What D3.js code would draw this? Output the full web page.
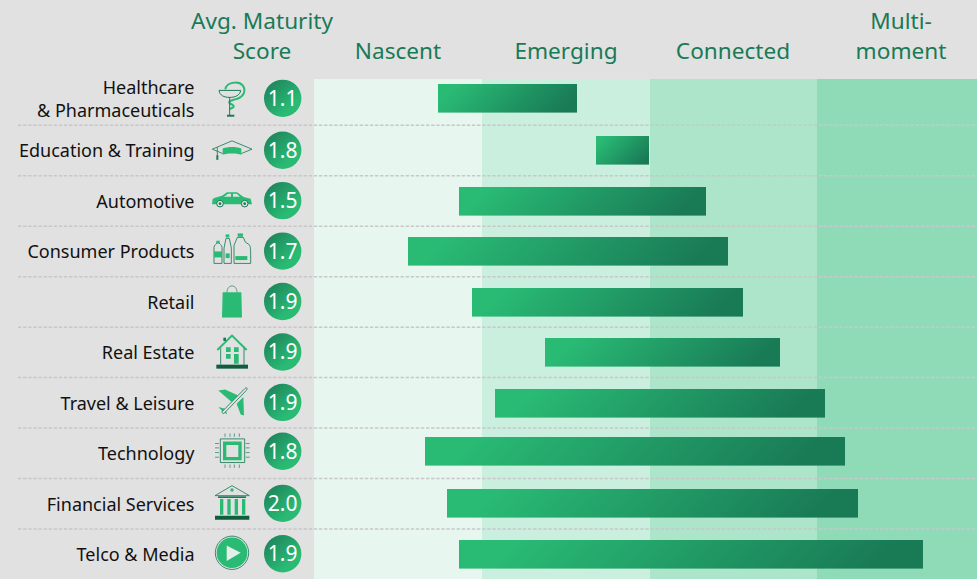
<!DOCTYPE html>
<html><head><meta charset="utf-8">
<script src="https://cdn.jsdelivr.net/npm/d3@7"></script>
<style>html,body{margin:0;padding:0;background:#e1e1e1;overflow:hidden}svg{display:block}text{font-family:"Noto Sans",sans-serif}</style>
</head><body><svg id="c" width="977" height="579"></svg>
<script>
const categories=["Healthcare\n& Pharmaceuticals","Education & Training","Automotive","Consumer Products","Retail","Real Estate","Travel & Leisure","Technology","Financial Services","Telco & Media"];
const scores=["1.1","1.8","1.5","1.7","1.9","1.9","1.9","1.8","2.0","1.9"];
const rangeStart=[0.74,1.68,0.865,0.56,0.94,1.375,1.08,0.66,0.79,0.865];
const rangeEnd=[1.57,1.995,2.335,2.47,2.56,2.78,3.045,3.165,3.24,3.63];
const stages=["Nascent","Emerging","Connected","Multi-\nmoment"];
const stageEdges=[0,1,2,3,3.952];
const stageFills=["#e7f6ef","#cbefde","#ace5ca","#8fdbb8"];
const scoreTitle="Avg. Maturity\nScore";

const G="#29ba74",D="#197a56",K="#0f5c3f",BG="#e1e1e1";
const svg=d3.select("#c");
const xRaw=d3.scaleLinear().domain([0,3.952]).range([314,977]);
const x=v=>Math.round(xRaw(v));
const y=d3.scaleBand().domain(categories).range([74.5,579]);
const mid=d=>y(d)+y.bandwidth()/2;
const cy=d=>mid(d)-(categories.indexOf(d)==0?1.4:categories.indexOf(d)==7?1.6:0);
const defs=svg.append("defs");
const cg=defs.append("linearGradient").attr("id","dot").attr("x1",.1).attr("y1",.1).attr("x2",.8).attr("y2",.85);
cg.append("stop").attr("offset",0).attr("stop-color","#1f845b");cg.append("stop").attr("offset",.85).attr("stop-color",G);

svg.append("rect").attr("width",977).attr("height",579).attr("fill",BG);
svg.selectAll(".band").data(stageFills).join("rect").attr("x",(d,i)=>x(stageEdges[i])).attr("y",79)
  .attr("width",(d,i)=>x(stageEdges[i+1])-x(stageEdges[i])).attr("height",500).attr("fill",d=>d);

svg.selectAll(".sep").data(categories.slice(1)).join("line")
  .attr("x1",18).attr("x2",977).attr("y1",d=>y(d)+.4).attr("y2",d=>y(d)+.4)
  .attr("stroke","#c8c8c8").attr("stroke-width",1.5).attr("stroke-dasharray","3.4 1.7");

function head(t,cx){t.split("\n").forEach((l,i,a)=>{svg.append("text").attr("x",cx).attr("y",a.length==2?29+i*30:59)
  .attr("text-anchor","middle").attr("font-size",22.6).attr("fill",D).text(l);});}
head(scoreTitle,262);
[398,566,733,901].forEach((cx,i)=>head(stages[i],cx));

const barTop=d=>Math.round(cy(d)-13.9);
const barH=28.6;
categories.forEach((d,i)=>{
  const x0=x(rangeStart[i]),x1=x(rangeEnd[i]),w=x1-x0,t=barTop(d),s=(w+barH)/2;
  const g=defs.append("linearGradient").attr("id","bar"+i).attr("gradientUnits","userSpaceOnUse")
    .attr("x1",x0).attr("y1",t).attr("x2",x0+s).attr("y2",t+s);
  g.append("stop").attr("offset",.12).attr("stop-color",G);g.append("stop").attr("offset",.9).attr("stop-color",D);
});
svg.selectAll(".bar").data(categories).join("rect").attr("x",(d,i)=>x(rangeStart[i])).attr("width",(d,i)=>x(rangeEnd[i])-x(rangeStart[i]))
  .attr("y",barTop).attr("height",barH).attr("fill",(d,i)=>`url(#bar${i})`);

categories.forEach(d=>{const ls=d.split("\n");ls.forEach((l,j)=>{svg.append("text").attr("x",194.5).attr("y",ls.length==2?cy(d)+7+(j==0?-11:11.5):mid(d)+7.3)
  .attr("text-anchor","end").attr("font-size",18).attr("fill","#111").text(l);});});

svg.selectAll(".dot").data(categories).join("circle").attr("cx",282.7).attr("cy",d=>cy(d)).attr("r",18.7).attr("fill","url(#dot)");
svg.selectAll(".score").data(categories).join("text").attr("x",282.7).attr("y",d=>cy(d)+7.5).attr("text-anchor","middle").attr("font-size",21).attr("fill","#fff").text((d,i)=>scores[i]);

function P(g,d,o){const p=g.append("path").attr("d",d);p.attr("fill",o.f||"none").attr("stroke",o.s||"none").attr("stroke-width",o.w||0);return p;}
const icons=[
g=>{P(g,"M-20,-28C-18,-48 18,-56 32,-40C44,-24 34,-6 16,0C0,4 -16,8 -5,15C8,20 10,26 -8,31",{s:G,w:6});
    P(g,"M-39,-25H26C24,-10 10,-4 -7,-4C-24,-4 -37,-10 -39,-25Z",{s:D,w:3});
    P(g,"M-7,-4V50",{s:D,w:3});P(g,"M-15,48H7V54H-15Z",{f:D});},
g=>{P(g,"M-59,0L0,-25L60,0L28,13M-28,13L-59,0",{s:D,w:2.5});
    P(g,"M-28,-2C-12,-8 12,-8 28,-2V17C12,12 -12,12 -28,17Z",{f:G});
    P(g,"M-44,-6V18",{s:D,w:2.5});P(g,"M-47,18H-41V32H-47Z",{f:D});},
g=>{P(g,"M-60,14L-58,-2C-50,-8 -36,-10 -30,-12L-15,-22H15L35,-8L56,-3L60,14Z",{f:G});
    P(g,"M-24,-9L-12,-18H-3V-9ZM3,-18H14L24,-9H3Z",{f:BG});
    [-36,38].forEach(c=>{g.append("circle").attr("cx",c).attr("cy",12).attr("r",10).attr("fill",BG).attr("stroke",D).attr("stroke-width",3);g.append("circle").attr("cx",c).attr("cy",12).attr("r",4).attr("fill",D);});},
g=>{P(g,"M-54,-8C-54,-16 -46,-16 -46,-22H-38C-38,-16 -30,-16 -30,-8V40H-54Z",{s:D,w:2.5});
    P(g,"M-54,4H-30V22H-54Z",{f:G});P(g,"M-47,-28H-37V-20H-47Z",{f:G});
    P(g,"M-24,-6L-18,-35H-8L-2,-6V40H-24Z",{s:D,w:2.5});P(g,"M-19,-47H-8V-38H-19Z",{f:G});P(g,"M-19,10H-7V24H-19Z",{f:G});
    P(g,"M6,-14L16,-38H34L40,-24L52,-16C56,-10 56,-2 56,40H6Z",{s:D,w:2.5});P(g,"M17,-50H33V-40H17Z",{f:G});P(g,"M10,18H46V30H10Z",{f:G});},
g=>{P(g,"M-15,-25C-15,-50 15,-50 15,-25",{s:D,w:2});P(g,"M-28,-25H28L30,51H-30Z",{f:G});},
g=>{P(g,"M-44,-3L0,-46L44,-3",{s:G,w:6});P(g,"M-26,-40H-18V-30H-26Z",{f:D});
    P(g,"M-34,-8V41M36,-8V41",{s:D,w:2.5});
    P(g,"M-18,-11H-4V3H-18ZM6,-11H20V3H6ZM-18,9H-4V23H-18ZM6,9H20V38H6Z",{f:G});
    P(g,"M-47,41H48V53H-47Z",{f:K});},
g=>{P(g,"M-41,-33L-21,-36L19,-18L-1,2Z",{f:G});P(g,"M14,7L34,-13L36,42L26,39Z",{f:G});P(g,"M-41,17L-21,22L-14,39L-26,32Z",{f:G});
    P(g,"M-31,32L38,-38C44,-44 48,-40 43,-33L-25,37Z",{f:BG,s:D,w:2.5});},
g=>{P(g,"M-35,-39H38V32H-35Z",{s:D,w:2.5});P(g,"M-22,-26H24V20H-22Z",{f:BG,s:G,w:10});P(g,"M-14,-18H18V14H-14Z",{f:BG});
    [-21,-6,7,22].forEach(c=>P(g,`M${c},-55V-45M${c},38V48`,{s:D,w:2}));
    [-25,-12,2,16].forEach(c=>P(g,`M-51,${c}H-39M41,${c}H53`,{s:D,w:2}));},
g=>{P(g,"M-51,-20L0,-50L52,-20H-51Z",{s:D,w:2.5});g.append("circle").attr("cy",-37).attr("r",5).attr("fill",G);
    P(g,"M-42,-18H42V-13H-42Z",{f:D});
    P(g,"M-36,-10H-26V37H-36ZM-14,-10H-4V37H-14ZM8,-10H18V37H8ZM30,-10H40V37H30Z",{f:G});
    P(g,"M-51,40H52V52H-51Z",{f:K});},
g=>{g.append("circle").attr("r",50).attr("fill","none").attr("stroke",D).attr("stroke-width",2.5);g.append("circle").attr("r",46).attr("fill",G);
    P(g,"M-16,-22L26,0L-16,25Z",{f:"#e1efe8"});}
];
categories.forEach((d,i)=>{const g=svg.append("g").attr("transform",`translate(232,${mid(d)-1}) scale(${1/3})`);icons[i](g);});
</script></body></html>
